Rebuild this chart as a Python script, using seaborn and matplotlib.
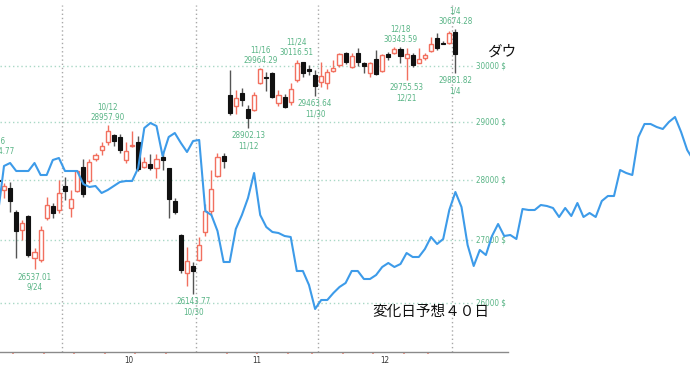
import os
import matplotlib
matplotlib.use("Agg")
import matplotlib.pyplot as plt
from matplotlib import font_manager as fm
from matplotlib.ticker import NullLocator
import seaborn as sns
import numpy as np
import pandas as pd

sns.set_theme(style="white")
plt.rcParams['font.family'] = ['DejaVu Sans']

# ---------------- data ----------------
dates = ['9/16', '9/17', '9/18', '9/21', '9/22', '9/23', '9/24', '9/25', '9/28', '9/29', '9/30',
         '10/1', '10/2', '10/5', '10/6', '10/7', '10/8', '10/9', '10/12', '10/13', '10/14', '10/15',
         '10/16', '10/19', '10/20', '10/21', '10/22', '10/23', '10/26', '10/27', '10/28', '10/29', '10/30',
         '11/2', '11/3', '11/4', '11/5', '11/6', '11/9', '11/10', '11/11', '11/12', '11/13', '11/16',
         '11/17', '11/18', '11/19', '11/20', '11/23', '11/24', '11/25', '11/27', '11/30',
         '12/1', '12/2', '12/3', '12/4', '12/7', '12/8', '12/9', '12/10', '12/11', '12/14', '12/15',
         '12/16', '12/17', '12/18', '12/21', '12/22', '12/23', '12/24', '12/28', '12/29', '12/30', '12/31',
         '1/4']
opens = [28000, 27830, 27870, 27460, 27171, 27402, 26710, 26684, 27365, 27567, 27502,
         27905, 27530, 27819, 28230, 27990, 28360, 28520, 28655, 28780, 28740, 28345,
         28580, 28650, 28230, 28280, 28200, 28400, 28210, 27650, 27090, 26470, 26580,
         26680, 27140, 27490, 28070, 28420, 29480, 29280, 29520, 29230, 29213, 29690,
         29810, 29880, 29340, 29450, 29350, 29750, 30067, 29940, 29840,
         29720, 29690, 29910, 30010, 30240, 29990, 30230, 30050, 29870, 30120, 29915,
         30210, 30230, 30310, 30140, 30200, 30060, 30140, 30275, 30510, 30415, 30417,
         30627]
highs = [28364.77, 27950, 27975, 27500, 27336, 27420, 26878, 27238, 27713, 27613, 28000,
         28060, 27836, 28174, 28362, 28370, 28470, 28650, 28957.90, 28800, 28800, 28660,
         28850, 28760, 28400, 28450, 28450, 28480, 28210, 27700, 27100, 26890, 26650,
         27050, 27600, 28180, 28470, 28470, 29933, 29570, 29600, 29300, 29530, 29964.29,
         29900, 29900, 29560, 29500, 29700, 30116.51, 30080, 30020, 29930,
         30080, 29950, 30110, 30230, 30260, 30240, 30319, 30080, 30080, 30300, 30220,
         30250, 30340, 30343.59, 30330, 30240, 30320, 30230, 30525, 30600, 30460, 30640,
         30674.28]
lows = [27950, 27700, 27475, 26710, 27008, 26732, 26537.01, 26652, 27336, 27365, 27450,
        27668, 27380, 27800, 27724, 27960, 28330, 28430, 28600, 28590, 28460, 28290,
        28560, 28150, 28200, 28180, 28040, 28180, 27370, 27430, 26480, 26270, 26143.77,
        26660, 27080, 27420, 28060, 28200, 29130, 29150, 29290, 28902.13, 29190, 29680,
        29550, 29420, 29280, 29250, 29300, 29715, 29800, 29840, 29463.64,
        29630, 29580, 29900, 29990, 30030, 29960, 30000, 29880, 29800, 29840, 29890,
        30100, 30220, 30050, 29755.53, 29990, 30050, 30110, 30260, 30290, 30400, 30400,
        29881.82]
closes = [27995, 27902, 27657, 27147, 27288, 26763, 26815, 27174, 27584, 27452, 27782,
          27817, 27683, 28149, 27773, 28303, 28426, 28587, 28838, 28680, 28514, 28494,
          28606, 28195, 28309, 28211, 28364, 28336, 27685, 27463, 26520, 26660, 26502,
          26925, 27481, 27847, 28390, 28323, 29158, 29421, 29398, 29080, 29480, 29950,
          29784, 29438, 29483, 29263, 29591, 30046, 29873, 29910, 29639,
          29824, 29883, 29969, 30218, 30070, 30174, 30068, 29999, 30046, 29862, 30200,
          30155, 30304, 30180, 30216, 30016, 30129, 30200, 30404, 30336, 30409, 30606,
          30224]

# forecast line ("変化日予想"), one value per trading day, arbitrary index units
forecast = [138, 186, 189, 181, 181, 181, 189, 177, 177, 192, 194, 181, 181, 181, 168, 165,
            166, 159, 162, 166, 170, 171, 171, 184, 224, 229, 226, 196, 215, 219, 209, 200,
            211, 212, 141, 137, 121, 90, 90, 123, 137, 154, 179, 137, 125, 120, 119, 116,
            115, 81, 81, 67, 43, 52, 52, 59, 65, 69, 81, 81, 73, 73, 77, 85, 89, 85, 88,
            99, 95, 95, 103, 115, 108, 113, 142, 160, 145, 107, 86, 102, 97, 116, 128, 116,
            117, 113, 143, 142, 142, 147, 146, 144, 135, 144, 136, 149, 135, 139, 135, 151,
            156, 156, 182, 179, 177, 215, 228, 228, 225, 223, 230, 235, 220, 202, 192]

high_marks = ['9/16', '10/12', '11/16', '11/24', '12/18', '1/4']
low_marks = ['9/24', '10/30', '11/12', '11/30', '12/21', '1/4']
price_ticks = [26000, 27000, 28000, 29000, 30000]
month_labels = ['10', '11', '12']

# ---------------- narrow (regular weight) font for small labels ----------------
def pick_narrow_font():
    files = [f.fname for f in fm.fontManager.ttflist]
    base = {os.path.basename(fn): fn for fn in files}
    exact = [('LiberationSansNarrow-Regular.ttf', 7.0), ('DejaVuSansCondensed.ttf', 5.8),
             ('RobotoCondensed-Regular.ttf', 6.3), ('NotoSans-CondensedRegular.ttf', 6.3),
             ('OpenSans_Condensed-Regular.ttf', 6.3)]
    for name, size in exact:
        if name in base:
            return fm.FontProperties(fname=base[name], size=size)
    for b, fn in base.items():
        if ('Narrow' in b or 'Condensed' in b) and not any(
                s in b for s in ('Bold', 'Italic', 'Oblique', 'Light', 'Thin', 'Black',
                                 'Medium', 'Semi', 'Extra')):
            return fm.FontProperties(fname=fn, size=6.0)
    return fm.FontProperties(family='DejaVu Sans', size=5.6)

SMALL = pick_narrow_font()

# ---------------- styling constants ----------------
PINK = '#f2705f'
DOWN = '#111111'
GREEN = '#58b485'
BLUE = '#3d9be9'

df = pd.DataFrame({'date': dates, 'open': opens, 'high': highs, 'low': lows, 'close': closes})
df['pos'] = np.arange(len(df)) - 1
fc = pd.DataFrame({'pos': np.arange(len(forecast)) - 1, 'value': forecast})

fig = plt.figure(figsize=(6.9, 3.68), dpi=100)
ax = fig.add_axes([0, 16 / 368, 1, 352 / 368])
ax.set_facecolor('white')
ax.set_yscale('log')
XL = (-0.656, 112.46)
ax.set_xlim(*XL)
ax.set_ylim(25241, 31220)

# grid
ax.hlines(price_ticks, XL[0], 76.9, colors='#a9d8c6', linestyles=(0, (1, 2)), lw=1, zorder=1)
month_bounds = [9.5, 31.5, 51.5, 73.5]
ax.vlines(month_bounds, 25241, 31126, colors='#a8a8a8', linestyles=(0, (1, 2)), lw=1, zorder=1)

# candles
up = df['close'] >= df['open']
wick_colors = np.where(up, PINK, '#555555')
ax.vlines(df['pos'], df['low'], df['high'], colors=wick_colors, lw=1, zorder=2)
body_lo = np.minimum(df['open'], df['close'])
body_h = np.abs(df['close'] - df['open'])
ax.bar(df['pos'][up], body_h[up], bottom=body_lo[up], width=0.68,
       facecolor='white', edgecolor=PINK, linewidth=1, zorder=3)
ax.bar(df['pos'][~up], body_h[~up], bottom=body_lo[~up], width=0.68,
       facecolor=DOWN, edgecolor=DOWN, linewidth=0.8, zorder=3)

# high / low labels
PT = 0.72
def label(text, x, y, dy):
    ax.annotate(text, (x, y), xytext=(0, dy * PT), textcoords='offset points',
                ha='center', va='center', fontproperties=SMALL, color=GREEN,
                zorder=5, annotation_clip=False)

for d in high_marks:
    r = df[df['date'] == d].iloc[0]
    label(f"{r['high']:.2f}", r['pos'], r['high'], 7.5)
    label(d, r['pos'], r['high'], 18)
for d in low_marks:
    r = df[df['date'] == d].iloc[0]
    label(f"{r['low']:.2f}", r['pos'], r['low'], -8)
    label(d, r['pos'], r['low'], -18)

# price labels (inside, right)
for v in price_ticks:
    ax.text(77.4, v, f"{v} $", ha='left', va='center', fontproperties=SMALL, color=GREEN, zorder=5)

# axes decoration
ax.yaxis.set_major_locator(NullLocator())
ax.yaxis.set_minor_locator(NullLocator())
for s in ['top', 'left', 'right']:
    ax.spines[s].set_visible(False)
ax.spines['bottom'].set_color('#8a8a8a')
ax.spines['bottom'].set_linewidth(1)
ax.spines['bottom'].set_bounds(XL[0], 82.6)
ax.set_xticks([20.5, 41.5, 62.5])
ax.set_xticklabels(month_labels, fontproperties=SMALL)
ax.set_xticks(month_bounds, minor=True)
ax.tick_params(axis='x', which='major', length=0, pad=3, labelcolor='#333333')
ax.tick_params(axis='x', which='minor', length=7.5, width=1.2, color='#8a8a8a', direction='out')
week_bounds = [1.5, 6.5, 11.5, 16.5, 21.5, 26.5, 36.5, 41.5, 46.5, 50.5, 55.5, 60.5, 65.5, 69.5]
ax.vlines(week_bounds, 0, -0.007, transform=ax.get_xaxis_transform(), colors='#ee8877',
          lw=1.2, clip_on=False)

# forecast line on a twin axis
ax2 = ax.twinx()
sns.lineplot(data=fc, x='pos', y='value', ax=ax2, color=BLUE, lw=1.5, zorder=6)
ax2.set_ylim(0, 352)
ax2.set_xlim(*XL)
ax2.set_yticks([])
ax2.set_ylabel('')
ax2.set_xlabel('')
for s in ax2.spines.values():
    s.set_visible(False)
ax.set_xlabel('')
ax.set_ylabel('')

# Japanese annotations
fig.text(487 / 690, 1 - 52 / 368, 'ダウ', family=['Noto Sans CJK JP', 'DejaVu Sans'],
         fontsize=10.5, color='#111111', ha='left', va='center')
fig.text(372 / 690, 1 - 312 / 368, '変化日予想４０日', family=['Noto Sans CJK JP', 'DejaVu Sans'],
         fontsize=10.5, color='#111111', ha='left', va='center')

fig.savefig('out.png', dpi=100, facecolor='white')
